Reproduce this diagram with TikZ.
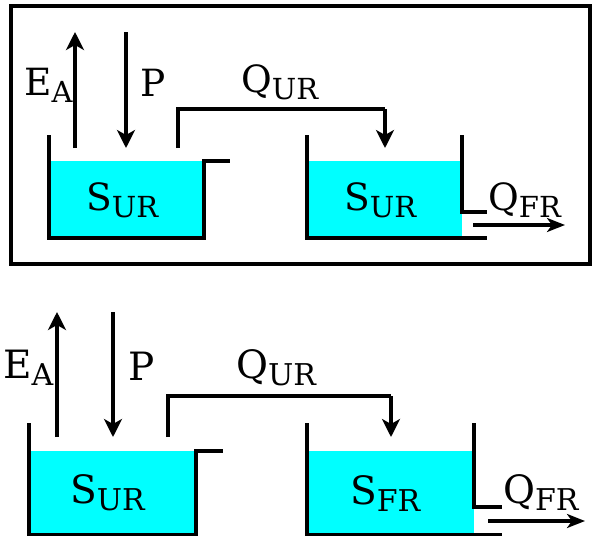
\documentclass[tikz,border=0pt]{standalone}
\usepackage{fontspec}
\setmainfont{DejaVu Serif}
\usetikzlibrary{arrows.meta}
\definecolor{aqua}{RGB}{0,255,255}

% quantity symbol with a lowered, smaller subscript
\newcommand{\hydsym}[2]{{\fontsize{37.5}{37.5}\selectfont #1}{\fontsize{29}{29}\selectfont\raisebox{-7pt}{#2}}}
\newcommand{\hydsymL}[2]{{\fontsize{39}{39}\selectfont #1}{\fontsize{30}{30}\selectfont\raisebox{-7.5pt}{#2}}}

\begin{document}
\begin{tikzpicture}[x=1pt,y=-1pt,
  wall/.style={line width=3.1pt, line cap=butt, line join=miter},
  water/.style={fill=aqua},
  flow/.style={line width=3.1pt, -{Stealth[length=18pt,width=18pt,inset=5pt]}},
  outflow/.style={line width=3.1pt, -{Stealth[length=18pt,width=14pt,inset=5pt]}},
  flowline/.style={line width=3.1pt},
  frame/.style={line width=4.4pt},
  lbl/.style={inner sep=0pt, anchor=base west}]
\useasboundingbox (0,0) rectangle (592,539);

% ---------- upper panel (framed) ----------
\draw[frame] (11,6) rectangle (590,264);

% upper reservoir
\fill[water] (49,161) rectangle (204,238);
\draw[wall] (49,135) -- (49,238) -- (204,238) -- (204,161) -- (230,161);
% lower reservoir
\fill[water] (307,161) rectangle (462,238);
\draw[wall] (307,135) -- (307,238) -- (487,238);
\draw[wall] (462,135) -- (462,212) -- (487,212);

\coordinate (ea1a) at (75,148);  \coordinate (ea1b) at (75,32);
\coordinate (p1a)  at (126,32);  \coordinate (p1b)  at (126,148);
\coordinate (q1a)  at (178,148); \coordinate (q1c)  at (385,109);
\coordinate (q1d)  at (385,148);
\coordinate (f1a)  at (473,225); \coordinate (f1b)  at (565,225);

\draw[flow] (ea1a) -- (ea1b);
\draw[flow] (p1a) -- (p1b);
\draw[flowline] (q1a) |- (q1c);
\draw[flow] (q1c) -- (q1d);
\draw[outflow] (f1a) -- (f1b);

\node[lbl] (tEA) at (24,95)  {\hydsym{E}{A}};
\node[lbl] (tP)  at (140,96) {\hydsym{P}{}};
\node[lbl] (tQ)  at (241,92) {\hydsym{Q}{UR}};
\node[lbl] (tS1) at (86,210) {\hydsym{S}{UR}};
\node[lbl] (tS2) at (344,210) {\hydsym{S}{UR}};
\node[lbl] (tQF) at (488,210) {\hydsym{Q}{FR}};

% ---------- lower panel ----------
\fill[water] (29,451) rectangle (196,534.5);
\draw[wall] (29,423) -- (29,534.5) -- (196,534.5) -- (196,451) -- (223,451);
\fill[water] (307,451) rectangle (474,534.5);
\draw[wall] (307,423) -- (307,534.5) -- (502,534.5);
\draw[wall] (474,423) -- (474,507) -- (502,507);

\coordinate (ea2a) at (57,437);  \coordinate (ea2b) at (57,312);
\coordinate (p2a)  at (113,312); \coordinate (p2b)  at (113,437);
\coordinate (q2a)  at (168,437); \coordinate (q2c)  at (391,396);
\coordinate (q2d)  at (391,437);
\coordinate (f2a)  at (488,521); \coordinate (f2b)  at (585,521);

\draw[flow] (ea2a) -- (ea2b);
\draw[flow] (p2a) -- (p2b);
\draw[flowline] (q2a) |- (q2c);
\draw[flow] (q2c) -- (q2d);
\draw[outflow] (f2a) -- (f2b);

\node[lbl] (bEA) at (3,378)   {\hydsymL{E}{A}};
\node[lbl] (bP)  at (128,380) {\hydsymL{P}{}};
\node[lbl] (bQ)  at (236,378) {\hydsymL{Q}{UR}};
\node[lbl] (bS1) at (70,503)  {\hydsymL{S}{UR}};
\node[lbl] (bS2) at (350,504) {\hydsymL{S}{FR}};
\node[lbl] (bQF) at (503,503) {\hydsymL{Q}{FR}};
\end{tikzpicture}
\end{document}
